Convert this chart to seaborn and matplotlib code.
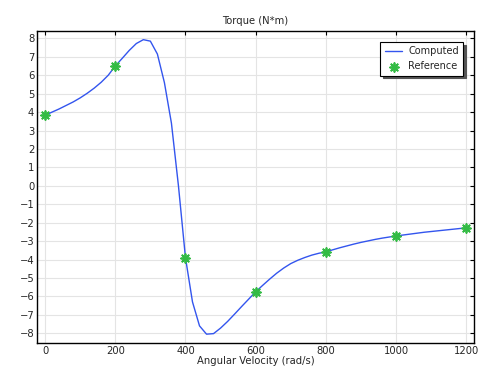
import matplotlib
matplotlib.use("Agg")
import matplotlib.pyplot as plt
import seaborn as sns
import pandas as pd

# Computed curve (angular velocity, torque)
omega = list(range(0, 1201, 20))
torque = [3.83, 4.0, 4.17, 4.36, 4.55, 4.77, 5.02, 5.3, 5.62, 6.0,
          6.5, 6.92, 7.35, 7.72, 7.93, 7.85, 7.15, 5.6, 3.4, 0.0,
          -3.9, -6.3, -7.6, -8.05, -8.02, -7.72, -7.36, -6.96, -6.55, -6.15,
          -5.75, -5.4, -5.06, -4.74, -4.46, -4.22, -4.04, -3.89, -3.76, -3.66,
          -3.58, -3.47, -3.36, -3.26, -3.16, -3.07, -2.99, -2.91, -2.84, -2.78,
          -2.72, -2.67, -2.62, -2.57, -2.52, -2.48, -2.44, -2.40, -2.36, -2.32,
          -2.28]

# Reference points
ref_omega = [0, 200, 400, 600, 800, 1000, 1200]
ref_torque = [3.83, 6.5, -3.9, -5.75, -3.6, -2.7, -2.27]

xticks = [0, 200, 400, 600, 800, 1000, 1200]
yticks = list(range(-8, 9))

sns.set_style("white")
plt.rcParams['font.family'] = ['DejaVu Sans']

fig = plt.figure(figsize=(4.79, 3.66), dpi=100)
ax = fig.add_axes([0.0772, 0.0628, 0.9124, 0.8525])

df = pd.DataFrame({"omega": omega, "torque": torque})
dref = pd.DataFrame({"omega": ref_omega, "torque": ref_torque})

sns.lineplot(data=df, x="omega", y="torque", ax=ax, color="#3355ee",
             linewidth=1.0, label="Computed")
sns.scatterplot(data=dref, x="omega", y="torque", ax=ax, color="#33bb44",
                marker=(8, 2, 0), s=40, linewidth=1.3, edgecolor="#33bb44",
                label="Reference", zorder=3)

ax.set_xlim(-23, 1222)
ax.set_ylim(-8.53, 8.4)
ax.set_xticks(xticks)
ax.set_yticks(yticks)
ax.grid(True, color="#e4e4e4", linewidth=0.8)
ax.set_axisbelow(True)
ax.tick_params(direction="in", length=3, width=0.8, labelsize=7.2,
               top=True, right=True, pad=2, color="black")
for s in ax.spines.values():
    s.set_color("black")
    s.set_linewidth(1.0)

ax.set_title("Torque (N*m)", fontsize=7.2, pad=5)
ax.set_xlabel("Angular Velocity (rad/s)", fontsize=7.2, labelpad=0)
ax.set_ylabel("")

leg = ax.legend(loc="upper right", fontsize=7.0, frameon=True, fancybox=False,
                shadow={"color": "#555555", "alpha": 1.0}, borderpad=0.45,
                handlelength=1.8, handletextpad=0.6, labelspacing=0.5,
                borderaxespad=0, bbox_to_anchor=(0.975, 0.965))
leg.get_frame().set_edgecolor("black")
leg.get_frame().set_linewidth(0.8)

fig.savefig("out.png", dpi=100)
